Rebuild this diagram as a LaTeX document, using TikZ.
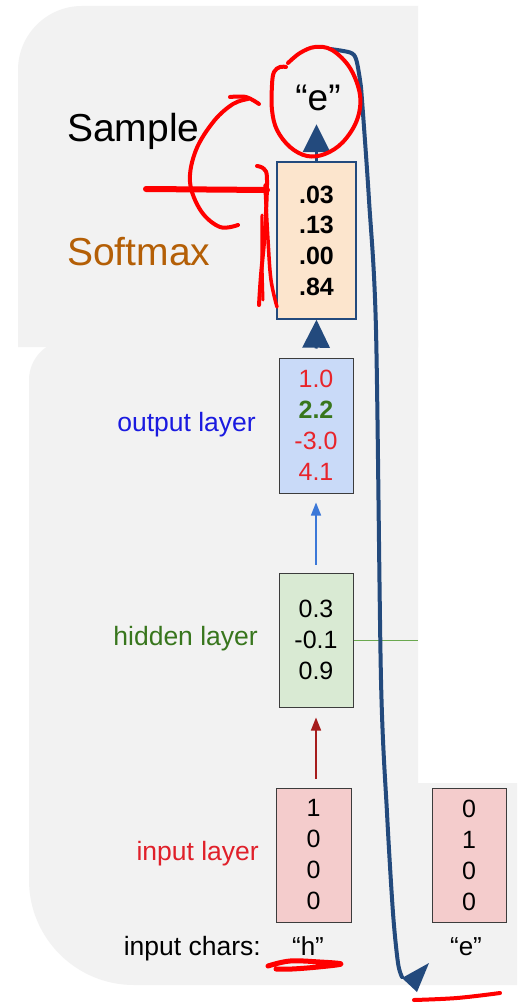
\documentclass[tikz,border=0pt]{standalone}
\usepackage{fontspec}
\setmainfont{Liberation Sans}
\usetikzlibrary{arrows.meta}

\definecolor{bggray}{HTML}{F2F2F2}
\definecolor{navy}{HTML}{234A7D}
\definecolor{peach}{HTML}{FCE5CD}
\definecolor{bluebox}{HTML}{C9DAF8}
\definecolor{greenbox}{HTML}{D9EAD3}
\definecolor{pinkbox}{HTML}{F4CCCC}
\definecolor{boxgray}{HTML}{3C3C3C}
\definecolor{numred}{HTML}{E8242B}
\definecolor{numgreen}{HTML}{38761D}
\definecolor{outblue}{HTML}{1A1AE0}
\definecolor{hidgreen}{HTML}{38761D}
\definecolor{inred}{HTML}{E0202A}
\definecolor{softbrown}{HTML}{B45F06}
\definecolor{thinblue}{HTML}{3C78D8}
\definecolor{thinred}{HTML}{A61C1C}
\definecolor{linkgreen}{HTML}{6AA84F}
\definecolor{inkred}{HTML}{FF0000}

\begin{document}
\begin{tikzpicture}[x=1pt,y=-1pt,
  valbox/.style={draw=boxgray, line width=1pt, inner sep=0pt, minimum width=74pt,
    align=center, font=\fontsize{25}{31}\selectfont},
  lbl/.style={inner sep=0pt, anchor=base east, font=\fontsize{26.5}{30}\selectfont},
  bigLbl/.style={inner sep=0pt, anchor=base west, font=\fontsize{39}{44}\selectfont},
  charLbl/.style={inner sep=0pt, anchor=base, font=\fontsize{26}{30}\selectfont},
  navyarr/.style={draw=navy, line width=3pt, -{Triangle[width=27pt,length=28pt]}},
  thinarr/.style={line width=1.5pt, -{Triangle[width=10pt,length=13pt]}},
  ink/.style={draw=inkred, line width=4pt, line cap=round, line join=round}]

\useasboundingbox (0,0) rectangle (517,1003);
\fill[white] (0,0) rectangle (517,1003);

% gray panels behind the network
\fill[bggray] (18,347) -- (18,70) .. controls (18,34.7) and (46.7,6) .. (82,6)
  -- (418,6) -- (418,347) -- cycle;
\fill[bggray] (29,880) -- (29,380) .. controls (29,358) and (47,340) .. (69,340)
  -- (418,340) -- (418,783) -- (517,783) -- (517,985) -- (134,985)
  .. controls (76,985) and (29,938) .. (29,880) -- cycle;

% layer boxes
\node[valbox, draw=navy, line width=1.4pt, fill=peach, minimum width=79pt,
  minimum height=157pt, font=\bfseries\fontsize{25}{30.7}\selectfont]
  (sm) at (316.5,240.5) {.03\\.13\\.00\\.84};
\node[valbox, fill=bluebox, minimum height=135pt] (out) at (316,425.5)
  {{\color{numred}1.0}\\{\color{numgreen}\bfseries 2.2}\\{\color{numred}-3.0}\\{\color{numred}4.1}};
\node[valbox, fill=greenbox, minimum height=134pt] (hid) at (316,640)
  {0.3\\-0.1\\0.9};
\node[valbox, fill=pinkbox, minimum width=75pt, minimum height=134pt] (inh) at (313.5,855)
  {1\\0\\0\\0};
\node[valbox, fill=pinkbox, minimum height=134pt] (ine) at (469,855)
  {0\\1\\0\\0};

% sampled character
\node[inner sep=0pt, minimum height=52pt, font=\fontsize{37}{40}\selectfont]
  (etop) at (318,98) {“e”};

% labels
\node[bigLbl] (samplbl) at (67,142) {Sample};
\node[bigLbl, text=softbrown] (softlbl) at (67,265) {Softmax};
\node[lbl, text=outblue] (outlbl) at (256,431) {output layer};
\node[lbl, text=hidgreen] (hidlbl) at (258,645) {hidden layer};
\node[lbl, text=inred] (inlbl) at (259,860) {input layer};
\node[lbl] (charslbl) at (261,955) {input chars:};
\node[charLbl] (chh) at (308,955) {“h”};
\node[charLbl] (che) at (466,955) {“e”};

% forward connections
\draw[thinarr, draw=thinred, fill=thinred, shorten <=9pt, shorten >=10pt]
  (hid.south |- inh.north) -- (hid.south);
\draw[thinarr, draw=thinblue, fill=thinblue, shorten <=8pt, shorten >=9pt]
  (hid.north) -- (out.south);
\draw[navyarr, shorten <=9pt] (out.north) -- (sm.south);
\draw[navyarr] (sm.north) -- (sm.north |- etop.south);

% recurrent link to the next step
\coordinate (hidlink) at (418,640);
\draw[linkgreen, line width=1pt] (hid.east |- hidlink) -- (hidlink);

% feedback of the sampled character into the next input
\coordinate (fbstart) at (330,49);
\coordinate (fbend) at (402,977);
\draw[navy, line width=4pt, line cap=round, line join=round]
  plot[smooth, tension=0.5] coordinates {(fbstart) (350,52.5) (356,59) (360,80)
  (362,100) (369,200) (376,330) (381,680) (387,813) (393,913) (398,963) (fbend)};
\fill[navy] (402,978) -- (429,963) -- (417,992) -- cycle;

% hand-drawn marks
\draw[ink] plot[smooth, tension=0.6] coordinates {(288,63) (300,53) (315,47)
  (332,50) (350,68) (360,95) (357,120) (343,142) (325,154) (307,156) (290,147)
  (277,130) (272,110) (272,85) (274,72) (280,67) (286,67)};
\draw[ink] plot[smooth, tension=0.6] coordinates {(238,225) (220,227) (201,211)
  (190,182) (196,150) (214,121) (233,104) (248,99)};
\draw[ink] plot[smooth, tension=0.6] coordinates {(230,97) (246,97) (259,104)};
\draw[ink, line width=6pt] (146,189) -- (267,190);
\draw[ink] plot[smooth, tension=0.6] coordinates {(257,166) (264,169) (267,180)
  (265,230) (261,275) (259,305)};
\draw[ink, line width=3.5pt] plot[smooth, tension=0.6] coordinates {(265,185)
  (268,240) (271,280) (277,307)};
\draw[ink, line width=3pt] plot[smooth, tension=0.6] coordinates {(262,215)
  (262,260) (263,300)};
\draw[ink, line width=5pt] plot[smooth, tension=0.6] coordinates {(268,966)
  (290,961) (320,962) (341,964) (318,967) (292,969) (276,969)};
\draw[ink] plot[smooth, tension=0.6] coordinates {(414,1000) (457,998) (500,993)};

\end{tikzpicture}
\end{document}
